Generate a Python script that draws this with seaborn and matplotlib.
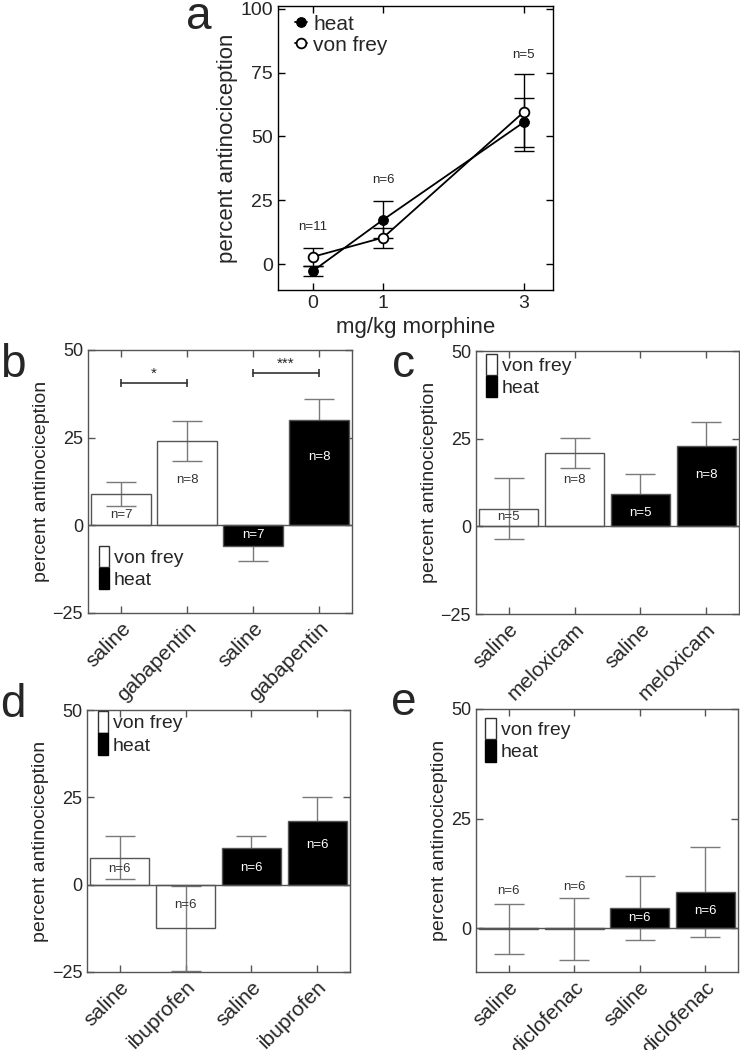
import matplotlib
matplotlib.use("Agg")
import matplotlib.pyplot as plt
import matplotlib.patches as mpatches
import seaborn as sns
import pandas as pd

sns.set_style("white")
plt.rcParams['font.family'] = ['Liberation Sans', 'DejaVu Sans']

# panel a: morphine dose response
dose = [0, 1, 3]
heat_mean = [-2.5, 17.5, 55.5]
heat_err = [2.0, 7.2, 9.5]
vf_mean = [3.0, 10.5, 59.5]
vf_err = [3.6, 3.9, 15.0]
a_n = ["n=11", "n=6", "n=5"]
a_npos = [14.7, 33, 82]

# panels b-e: bars (von frey saline, von frey drug, heat saline, heat drug)
b_drug = "gabapentin"
b_vals = [9.0, 24.0, -5.9, 30.0]
b_err = [3.4, 5.7, 4.3, 5.9]
b_n = ["n=7", "n=8", "n=7", "n=8"]
b_npos = [3.0, 13.0, -2.9, 19.5]

c_drug = "meloxicam"
c_vals = [5.0, 20.9, 9.2, 23.0]
c_err = [8.7, 4.2, 5.8, 6.7]
c_n = ["n=5", "n=8", "n=5", "n=8"]
c_npos = [2.6, 13.3, 3.8, 14.6]

d_drug = "ibuprofen"
d_vals = [7.7, -12.5, 10.6, 18.3]
d_err = [6.2, 12.1, 3.4, 6.8]
d_n = ["n=6", "n=6", "n=6", "n=6"]
d_npos = [4.4, -5.9, 4.9, 11.4]

e_drug = "diclofenac"
e_vals = [-0.2, -0.2, 4.5, 8.2]
e_err = [5.8, 7.0, 7.3, 10.3]
e_n = ["n=6", "n=6", "n=6", "n=6"]
e_npos = [8.5, 9.4, 2.4, 4.0]

fig = plt.figure(figsize=(7.4, 10.5), dpi=100)

# ---- panel a
ax = fig.add_axes([0.3757, 0.7238, 0.3716, 0.2705])
dfa = pd.DataFrame({"dose": dose * 2, "val": heat_mean + vf_mean,
                    "test": ["heat"] * 3 + ["von frey"] * 3})
ax.errorbar(dose, heat_mean, yerr=heat_err, fmt="none", ecolor="k", elinewidth=1, capsize=7, zorder=1)
ax.errorbar(dose, vf_mean, yerr=vf_err, fmt="none", ecolor="k", elinewidth=1, capsize=7, zorder=1)
sns.lineplot(data=dfa[dfa.test == "heat"], x="dose", y="val", color="k", marker="o",
             markerfacecolor="k", markeredgecolor="k", markersize=7, lw=1.3, ax=ax, label="heat", zorder=3)
sns.lineplot(data=dfa[dfa.test == "von frey"], x="dose", y="val", color="k", marker="o",
             markerfacecolor="white", markeredgecolor="k", markeredgewidth=1.3, markersize=7, lw=1.3,
             ax=ax, label="von frey", zorder=3)
for x, t, y in zip(dose, a_n, a_npos):
    ax.text(x, y, t, ha="center", va="center", fontsize=9.5)
ax.set_xlim(-0.5, 3.42)
ax.set_ylim(-10, 101)
ax.set_xticks(dose)
ax.set_yticks([0, 25, 50, 75, 100])
ax.set_xlabel("mg/kg morphine", fontsize=16)
ax.set_ylabel("percent antinociception", fontsize=16, labelpad=2)
ax.tick_params(direction="in", bottom=True, left=True, top=True, right=True,
               length=5, width=1, labelsize=14, color="k")
for s in ax.spines.values():
    s.set_color("k")
    s.set_linewidth(1)
ax.legend(loc="upper left", bbox_to_anchor=(0.06, 0.97), frameon=False, fontsize=15,
          handlelength=0.6, handletextpad=0.3, labelspacing=0.1, borderpad=0, borderaxespad=0)


def bar_panel(rect, drug, vals, err, ntext, npos, ylim, yticks, leg_anchor):
    ax = fig.add_axes(rect)
    labels = ["saline", drug, "saline", drug]
    df = pd.DataFrame({"pos": [0, 1, 2, 3], "val": vals})
    ax.errorbar([0, 1, 2, 3], vals, yerr=err, fmt="none", ecolor="#7a7a7a",
                elinewidth=1, capsize=11, capthick=1, zorder=1)
    sns.barplot(data=df, x="pos", y="val", width=0.9, color="k", edgecolor="#555555",
                linewidth=1, ax=ax, zorder=2)
    for i, p in enumerate(ax.patches):
        p.set_facecolor("none" if i < 2 else "black")
    ax.axhline(0, color="#555555", lw=1, zorder=3)
    for i in range(4):
        ax.text(i, npos[i], ntext[i], ha="center", va="center", fontsize=9.5,
                color="#333333" if i < 2 else "white", zorder=4)
    ax.set_xlim(-0.5, 3.5)
    ax.set_ylim(*ylim)
    ax.set_yticks(yticks)
    ax.set_xticks([0, 1, 2, 3])
    ax.set_xticklabels(labels, rotation=45, ha="right", rotation_mode="anchor", fontsize=15)
    ax.set_xlabel("")
    ax.set_ylabel("percent antinociception", fontsize=14, labelpad=2)
    ax.tick_params(direction="in", bottom=True, left=True, top=True, right=True,
                   length=5, width=1, color="#555555")
    ax.tick_params(axis="y", labelsize=13)
    ax.tick_params(axis="x", pad=4)
    for s in ax.spines.values():
        s.set_color("#555555")
        s.set_linewidth(1)
    handles = [mpatches.Patch(facecolor="white", edgecolor="#333333", label="von frey"),
               mpatches.Patch(facecolor="black", edgecolor="black", label="heat")]
    ax.legend(handles=handles, loc="upper left", bbox_to_anchor=leg_anchor, frameon=False,
              fontsize=14, handlelength=0.55, handleheight=1.3, handletextpad=0.25,
              labelspacing=0.05, borderpad=0, borderaxespad=0)
    return ax


axb = bar_panel([0.1189, 0.4162, 0.3568, 0.2505], b_drug, b_vals, b_err, b_n, b_npos,
                (-25, 50), [-25, 0, 25, 50], (0.04, 0.255))
# significance brackets
axb.plot([0, 1], [40.5, 40.5], color="#333333", lw=1.2, marker="|", ms=6, mew=1.2)
axb.text(0.5, 41.2, "*", ha="center", va="bottom", fontsize=11)
axb.plot([2, 3], [43.5, 43.5], color="#333333", lw=1.2, marker="|", ms=6, mew=1.2)
axb.text(2.5, 44.2, "***", ha="center", va="bottom", fontsize=11)

bar_panel([0.6432, 0.4152, 0.3554, 0.2505], c_drug, c_vals, c_err, c_n, c_npos,
          (-25, 50), [-25, 0, 25, 50], (0.04, 0.99))
bar_panel([0.1176, 0.0743, 0.3554, 0.2495], d_drug, d_vals, d_err, d_n, d_npos,
          (-25, 50), [-25, 0, 25, 50], (0.04, 0.995))
bar_panel([0.6432, 0.0743, 0.354, 0.2505], e_drug, e_vals, e_err, e_n, e_npos,
          (-10, 50), [0, 25, 50], (0.035, 0.965))

# panel letters
for letter, x, y in [("a", 186, 29), ("b", 0, 377), ("c", 392, 377), ("d", 0, 717), ("e", 391, 715)]:
    fig.text(x / 740, 1 - y / 1050, letter, fontsize=33, ha="left", va="baseline")

fig.savefig("out.png", dpi=100)
